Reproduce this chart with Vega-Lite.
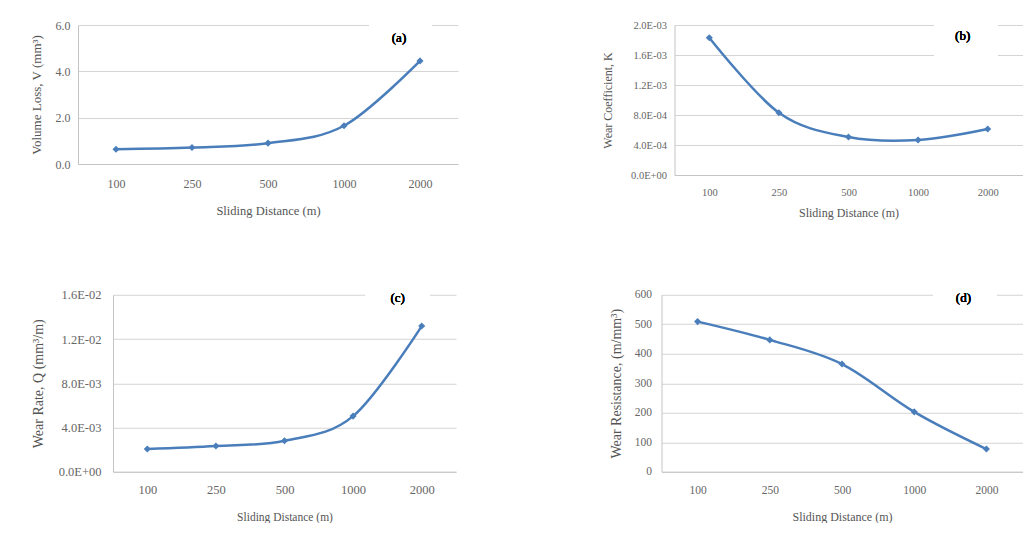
{
  "$schema": "https://vega.github.io/schema/vega-lite/v6.json",
  "background": "white",
  "padding": {"left": 29, "top": 19, "right": 0, "bottom": 0},
  "autosize": {"type": "pad"},
  "spacing": 70.75,
  "datasets": {
    "a": [
      {"distance": "100", "value": 0.64},
      {"distance": "250", "value": 0.71},
      {"distance": "500", "value": 0.9},
      {"distance": "1000", "value": 1.65},
      {"distance": "2000", "value": 4.45}
    ],
    "b": [
      {"distance": "100", "value": 0.00183},
      {"distance": "250", "value": 0.00083},
      {"distance": "500", "value": 0.000507},
      {"distance": "1000", "value": 0.000467},
      {"distance": "2000", "value": 0.000613}
    ],
    "c": [
      {"distance": "100", "value": 0.00205},
      {"distance": "250", "value": 0.00232},
      {"distance": "500", "value": 0.0028},
      {"distance": "1000", "value": 0.00503},
      {"distance": "2000", "value": 0.01317}
    ],
    "d": [
      {"distance": "100", "value": 509},
      {"distance": "250", "value": 447},
      {"distance": "500", "value": 365},
      {"distance": "1000", "value": 203},
      {"distance": "2000", "value": 77}
    ],
    "blank": [{"note": ""}]
  },
  "vconcat": [
    {
      "spacing": 142.5,
      "hconcat": [
        {
          "width": 380,
          "height": 139,
          "data": {"name": "a"},
          "layer": [
            {
              "mark": {"type": "line", "interpolate": "cardinal", "color": "#4a7ebb", "strokeWidth": 2.5, "point": {"shape": "diamond", "filled": true, "size": 50, "color": "#4a7ebb"}},
              "encoding": {
                "x": {"field": "distance", "type": "ordinal", "sort": ["100", "250", "500", "1000", "2000"], "scale": {"type": "point", "padding": 0.5},
                  "axis": {"title": "Sliding Distance (m)", "labelFontSize": 12, "titleFontSize": 12.5, "labelPadding": 14, "minExtent": 40.75, "maxExtent": 40.75}},
                "y": {"field": "value", "type": "quantitative", "scale": {"domain": [0, 6], "nice": false},
                  "axis": {"title": "Volume Loss, V (mm³)", "values": [0, 2, 4, 6], "format": ".1f", "labelFontSize": 12, "titleFontSize": 13, "labelPadding": 8, "minExtent": 35, "maxExtent": 35}}
              }
            },
            {
              "mark": {"type": "rect", "color": "white", "width": 63, "height": 26, "xOffset": -19.5},
              "encoding": {"x": {"datum": "2000"}, "y": {"datum": 5.59}}
            },
            {
              "mark": {"type": "text", "text": "(a)", "font": "Liberation Serif", "fontSize": 13, "color": "#000000", "dx": -21, "baseline": "middle"},
              "encoding": {"x": {"datum": "2000"}, "y": {"datum": 5.46}}
            }
          ]
        },
        {
          "width": 348,
          "height": 150,
          "data": {"name": "b"},
          "layer": [
            {
              "mark": {"type": "line", "interpolate": "cardinal", "color": "#4a7ebb", "strokeWidth": 2.5, "point": {"shape": "diamond", "filled": true, "size": 50, "color": "#4a7ebb"}},
              "encoding": {
                "x": {"field": "distance", "type": "ordinal", "sort": ["100", "250", "500", "1000", "2000"], "scale": {"type": "point", "padding": 0.5},
                  "axis": {"title": "Sliding Distance (m)", "labelFontSize": 10.5, "titleFontSize": 12, "labelPadding": 12, "minExtent": 32, "maxExtent": 32}},
                "y": {"field": "value", "type": "quantitative", "scale": {"domain": [0, 0.002], "nice": false},
                  "axis": {"title": "Wear Coefficient, K", "values": [0, 0.0004, 0.0008, 0.0012, 0.0016, 0.002],
                    "labelExpr": "replace(upper(format(datum.value, '.1e')), regexp('E([+-])([0-9])$'), 'E$10$2')",
                    "labelFontSize": 10.5, "titleFontSize": 12, "labelPadding": 8, "minExtent": 60.5, "maxExtent": 60.5}}
              }
            },
            {
              "mark": {"type": "rect", "color": "white", "width": 63, "height": 36, "xOffset": -21.7},
              "encoding": {"x": {"datum": "2000"}, "y": {"datum": 0.00182}}
            },
            {
              "mark": {"type": "text", "text": "(b)", "font": "Liberation Serif", "fontSize": 13, "color": "#000000", "dx": -25, "baseline": "middle"},
              "encoding": {"x": {"datum": "2000"}, "y": {"datum": 0.00186}}
            }
          ]
        }
      ]
    },
    {
      "spacing": -48,
      "hconcat": [
        {
          "width": 1,
          "height": 1,
          "data": {"name": "blank"},
          "mark": {"type": "text", "text": ""},
          "encoding": {}
        },
        {
          "spacing": 152.5,
          "hconcat": [
            {
              "width": 343,
              "height": 177,
              "data": {"name": "c"},
              "layer": [
                {
                  "mark": {"type": "line", "interpolate": "cardinal", "color": "#4a7ebb", "strokeWidth": 2.5, "point": {"shape": "diamond", "filled": true, "size": 50, "color": "#4a7ebb"}},
                  "encoding": {
                    "x": {"field": "distance", "type": "ordinal", "sort": ["100", "250", "500", "1000", "2000"], "scale": {"type": "point", "padding": 0.5},
                      "axis": {"title": "Sliding Distance (m)", "labelFontSize": 12.5, "titleFontSize": 11.5, "labelPadding": 11.25, "minExtent": 39.75, "maxExtent": 39.75}},
                    "y": {"field": "value", "type": "quantitative", "scale": {"domain": [0, 0.016], "nice": false},
                      "axis": {"title": "Wear Rate, Q  (mm³/m)", "values": [0, 0.004, 0.008, 0.012, 0.016],
                        "labelExpr": "replace(upper(format(datum.value, '.1e')), regexp('E([+-])([0-9])$'), 'E$10$2')",
                        "labelFontSize": 12.5, "titleFontSize": 14, "labelPadding": 12, "minExtent": 68, "maxExtent": 68}}
                  }
                },
                {
                  "mark": {"type": "rect", "color": "white", "width": 64, "height": 22, "xOffset": -24},
                  "encoding": {"x": {"datum": "2000"}, "y": {"datum": 0.0155}}
                },
                {
                  "mark": {"type": "text", "text": "(c)", "font": "Liberation Serif", "fontSize": 13, "color": "#000000", "dx": -24, "baseline": "middle"},
                  "encoding": {"x": {"datum": "2000"}, "y": {"datum": 0.01568}}
                }
              ]
            },
            {
              "width": 361,
              "height": 177,
              "data": {"name": "d"},
              "layer": [
                {
                  "mark": {"type": "line", "interpolate": "cardinal", "color": "#4a7ebb", "strokeWidth": 2.5, "point": {"shape": "diamond", "filled": true, "size": 50, "color": "#4a7ebb"}},
                  "encoding": {
                    "x": {"field": "distance", "type": "ordinal", "sort": ["100", "250", "500", "1000", "2000"], "scale": {"type": "point", "padding": 0.5},
                      "axis": {"title": "Sliding Distance (m)", "labelFontSize": 11.5, "titleFontSize": 12, "labelPadding": 12.5, "minExtent": 39.5, "maxExtent": 39.5}},
                    "y": {"field": "value", "type": "quantitative", "scale": {"domain": [0, 600], "nice": false},
                      "axis": {"title": "Wear Resistance, (m/mm³)", "values": [0, 100, 200, 300, 400, 500, 600], "format": "d",
                        "labelFontSize": 11.5, "titleFontSize": 14, "labelPadding": 10, "minExtent": 38.5, "maxExtent": 38.5}}
                  }
                },
                {
                  "mark": {"type": "rect", "color": "white", "width": 63, "height": 22, "xOffset": -21.5},
                  "encoding": {"x": {"datum": "2000"}, "y": {"datum": 581}}
                },
                {
                  "mark": {"type": "text", "text": "(d)", "font": "Liberation Serif", "fontSize": 13, "color": "#000000", "dx": -23, "baseline": "middle"},
                  "encoding": {"x": {"datum": "2000"}, "y": {"datum": 588}}
                }
              ]
            }
          ]
        }
      ]
    }
  ],
  "config": {
    "view": {"stroke": null},
    "font": "Liberation Serif",
    "axis": {
      "labelFont": "Liberation Serif",
      "titleFont": "Liberation Serif",
      "labelFontSize": 11,
      "titleFontSize": 11,
      "titleFontWeight": "normal",
      "labelColor": "#666666",
      "titleColor": "#555555",
      "ticks": false,
      "labelOverlap": false,
      "tickCount": 20,
      "gridColor": "#d4d4d4",
      "domainColor": "#c4c4c4",
      "titlePadding": 0
    },
    "axisX": {"grid": false, "labelAngle": 0},
    "axisY": {"grid": true}
  }
}
